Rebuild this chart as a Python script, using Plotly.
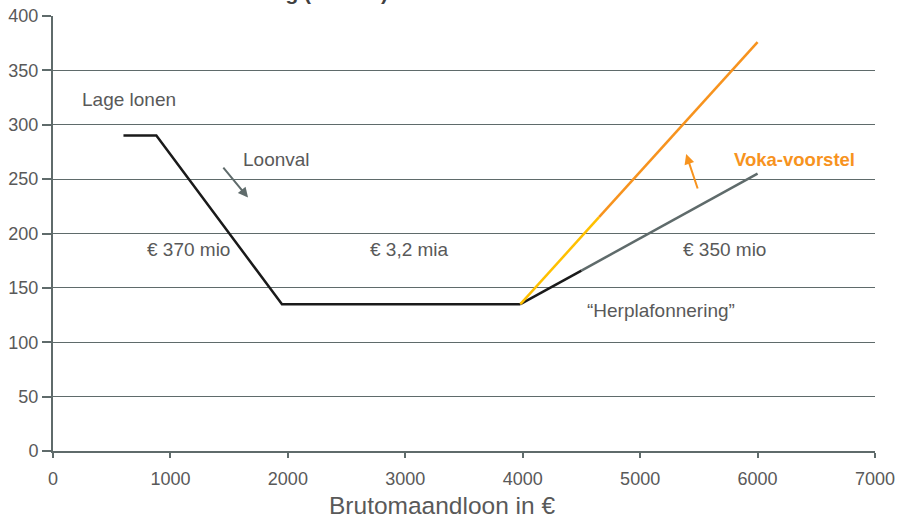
import plotly.graph_objects as go

# Data
base_x = [600, 880, 1950, 3980]
base_y = [290, 290, 135, 135]
herpl_black_x = [3980, 4500]
herpl_black_y = [135, 165.9]
herpl_gray_x = [4500, 6000]
herpl_gray_y = [165.9, 255]
voka_yellow_x = [3980, 4650]
voka_yellow_y = [135, 215]
voka_orange_x = [4650, 6000]
voka_orange_y = [215, 376]

x_ticks = [0, 1000, 2000, 3000, 4000, 5000, 6000, 7000]
y_ticks = [0, 50, 100, 150, 200, 250, 300, 350, 400]

GRAY = "#5F6B6B"
TXT = "#595959"
ORANGE = "#F7931E"
YELLOW = "#FFC000"
FONT = "Liberation Sans, Arial, sans-serif"

fig = go.Figure()
fig.add_trace(go.Scatter(x=base_x, y=base_y, mode="lines", line=dict(color="#1A1A1A", width=2.5), showlegend=False))
fig.add_trace(go.Scatter(x=herpl_gray_x, y=herpl_gray_y, mode="lines", line=dict(color=GRAY, width=2.5), showlegend=False))
fig.add_trace(go.Scatter(x=herpl_black_x, y=herpl_black_y, mode="lines", line=dict(color="#1A1A1A", width=2.5), showlegend=False))
fig.add_trace(go.Scatter(x=voka_orange_x, y=voka_orange_y, mode="lines", line=dict(color=ORANGE, width=2.5), showlegend=False))
fig.add_trace(go.Scatter(x=voka_yellow_x, y=voka_yellow_y, mode="lines", line=dict(color=YELLOW, width=2.5), showlegend=False))

def label(x, y, text, color=TXT, size=19, bold=False, xanchor="center"):
    t = f"<b>{text}</b>" if bold else text
    fig.add_annotation(x=x, y=y, text=t, showarrow=False, xanchor=xanchor, yanchor="middle",
                       font=dict(family=FONT, size=size, color=color))

label(232, 323, "Lage lonen", xanchor="left")
label(1600, 268, "Loonval", xanchor="left")
label(1150, 185, "€ 370 mio")
label(3032, 185, "€ 3,2 mia")
label(5716, 185, "€ 350 mio")
label(5179, 129, "“Herplafonnering”")
label(6312, 268, "Voka-voorstel", color=ORANGE, size=18.5, bold=True)

# Arrows
fig.add_annotation(x=1661, y=233, ax=1440, ay=262, axref="x", ayref="y", xref="x", yref="y",
                   text="", showarrow=True, arrowhead=2, arrowsize=1, arrowwidth=2, arrowcolor=GRAY)
fig.add_annotation(x=5392, y=273, ax=5494, ay=240, axref="x", ayref="y", xref="x", yref="y",
                   text="", showarrow=True, arrowhead=2, arrowsize=1, arrowwidth=2, arrowcolor=ORANGE)

# Partially clipped title at the very top
fig.add_annotation(x=2870, xref="x", xanchor="right", y=1.0, yref="paper", yanchor="bottom",
                   yshift=10, text="<b>Vermindering (in euro)</b>", showarrow=False,
                   font=dict(family=FONT, size=21, color="#404040"))

# X-axis title (slightly left of centre, as in the reference)
fig.add_annotation(x=0.473, xref="paper", y=-0.1264, yref="paper", xanchor="center", yanchor="middle",
                   text="Brutomaandloon in €", showarrow=False,
                   font=dict(family=FONT, size=24.5, color=TXT))

fig.update_layout(
    width=902, height=520,
    margin=dict(l=53, r=27, t=16, b=69),
    paper_bgcolor="white", plot_bgcolor="white",
    font=dict(family=FONT, color=TXT, size=18),
    xaxis=dict(range=[0, 7000], tickvals=x_ticks, ticktext=[str(v) for v in x_ticks],
               showgrid=False, zeroline=False, showline=True, linecolor=GRAY, linewidth=2,
               ticks="outside", ticklen=5, tickcolor=GRAY, tickwidth=1.5,
               ticklabelstandoff=5, automargin=False,
               tickfont=dict(size=18, color=TXT)),
    yaxis=dict(range=[0, 400], tickvals=y_ticks, ticktext=[str(v) for v in y_ticks],
               showgrid=True, gridcolor=GRAY, gridwidth=1.2, zeroline=False,
               showline=True, linecolor=GRAY, linewidth=2, automargin=False,
               ticks="outside", ticklen=9, tickcolor=GRAY, tickwidth=1.5,
               tickfont=dict(size=18, color=TXT)),
)

fig.write_html("out.html")
